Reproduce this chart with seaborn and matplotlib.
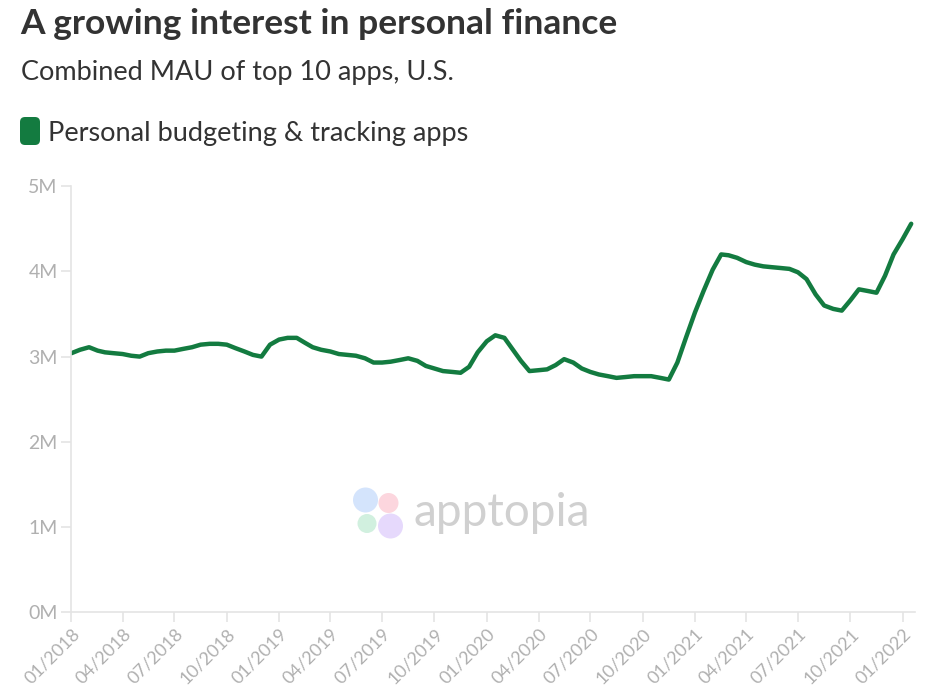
import pandas as pd
import matplotlib.pyplot as plt
import matplotlib.dates as mdates
from matplotlib.patches import Circle, FancyBboxPatch
from matplotlib.ticker import FuncFormatter
import seaborn as sns

# Half-monthly readings, Jan 2018 - mid Jan 2022 (millions of MAU)
mau_millions = [
    3.04, 3.08, 3.11, 3.07, 3.05, 3.04, 3.03, 3.01, 3.00, 3.04,
    3.06, 3.07, 3.07, 3.09, 3.11, 3.14, 3.15, 3.15, 3.14, 3.10,
    3.06, 3.02, 3.00, 3.14, 3.20, 3.22, 3.22, 3.16, 3.11, 3.08,
    3.06, 3.03, 3.02, 3.01, 2.98, 2.93, 2.93, 2.94, 2.96, 2.98,
    2.95, 2.89, 2.86, 2.83, 2.82, 2.81, 2.88, 3.05, 3.18, 3.25,
    3.22, 3.08, 2.95, 2.83, 2.84, 2.85, 2.90, 2.97, 2.93, 2.86,
    2.82, 2.79, 2.77, 2.75, 2.76, 2.77, 2.77, 2.77, 2.75, 2.73,
    2.93, 3.22, 3.52, 3.77, 4.02, 4.20, 4.19, 4.16, 4.11, 4.08,
    4.06, 4.05, 4.04, 4.03, 3.99, 3.91, 3.73, 3.60, 3.56, 3.54,
    3.66, 3.79, 3.77, 3.75, 3.95, 4.20, 4.38, 4.56,
]
months = pd.date_range("2018-01-01", periods=49, freq="MS")
dates = []
for m in months:
    dates.append(m)
    dates.append(m + pd.Timedelta(days=15))
dates = dates[:len(mau_millions)]

series_name = "Personal budgeting & tracking apps"
tick_dates = pd.date_range("2018-01-01", "2022-01-01", freq="QS")
y_ticks = [0, 1, 2, 3, 4, 5]

df = pd.DataFrame({"date": dates, "mau": mau_millions})

green = "#137b40"
grey_txt = "#b0b0b0"
grey_line = "#e4e4e4"

sns.set_theme(style="white")
plt.rcParams["font.family"] = ["Lato", "DejaVu Sans"]

fig = plt.figure(figsize=(9.4, 6.9), dpi=100)
ax = fig.add_axes([0.076, 0.113, 0.897, 0.617])

sns.lineplot(data=df, x="date", y="mau", color=green, linewidth=3.2, ax=ax)

ax.set_ylim(0, 5)
ax.set_yticks(y_ticks)
ax.yaxis.set_major_formatter(FuncFormatter(lambda v, p: f"{int(v)}M"))
ax.set_xlim(pd.Timestamp("2018-01-01"), pd.Timestamp("2022-01-22"))
ax.set_xticks(tick_dates)
ax.xaxis.set_major_formatter(mdates.DateFormatter("%m/%Y"))
ax.set_xlabel("")
ax.set_ylabel("")

for side in ["top", "right"]:
    ax.spines[side].set_visible(False)
for side in ["left", "bottom"]:
    ax.spines[side].set_color(grey_line)
    ax.spines[side].set_linewidth(1.2)
ax.tick_params(axis="both", which="major", length=7, width=1.2, color=grey_line,
               labelcolor=grey_txt, left=True, bottom=True)
ax.tick_params(axis="y", labelsize=14, pad=3)
ax.tick_params(axis="x", labelsize=13, pad=3)
for lbl in ax.get_xticklabels():
    lbl.set_rotation(45)
    lbl.set_ha("right")
    lbl.set_va("top")
    lbl.set_rotation_mode("anchor")

# titles and legend
fig.text(0.021, 0.950, "A growing interest in personal finance", fontsize=25.5,
         fontweight="bold", color="#333333", va="baseline")
fig.text(0.022, 0.884, "Combined MAU of top 10 apps, U.S.", fontsize=19.5,
         color="#333333", va="baseline")
fig.add_artist(FancyBboxPatch((0.20, 6.9 - 1.45), 0.20, 0.28,
                              boxstyle="round,pad=0,rounding_size=0.05",
                              transform=fig.dpi_scale_trans, facecolor=green,
                              edgecolor="none"))
fig.text(0.051, 0.796, series_name, fontsize=19.5, color="#333333", va="baseline")

# watermark
for cx, cy, r, c in [(3.655, 6.9 - 5.00, 0.125, "#d4e4fc"),
                     (3.885, 6.9 - 5.03, 0.10, "#fcd6de"),
                     (3.67, 6.9 - 5.235, 0.095, "#d1f0df"),
                     (3.905, 6.9 - 5.26, 0.125, "#e6d9fc")]:
    fig.add_artist(Circle((cx, cy), r, transform=fig.dpi_scale_trans,
                          facecolor=c, edgecolor="none"))
fig.text(0.44, 0.257, "apptopia", fontsize=33, color="#d0d0d0", va="center")

fig.savefig("out.png", dpi=100)
